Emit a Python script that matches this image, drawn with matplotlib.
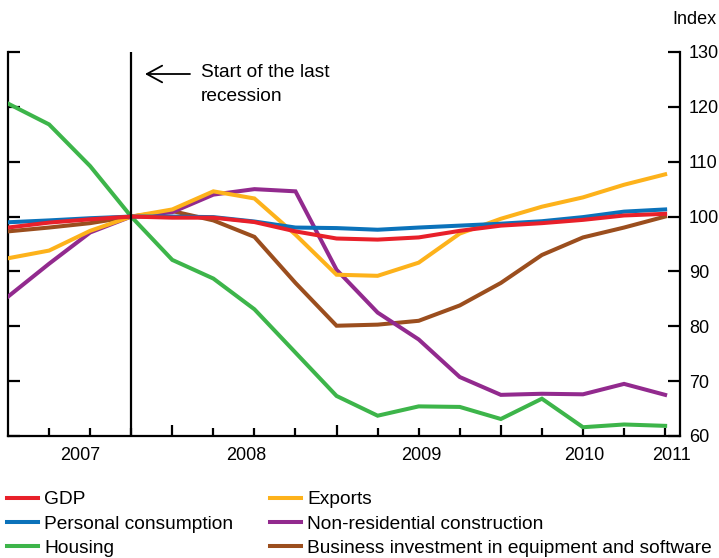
import matplotlib
matplotlib.use("Agg")
import matplotlib.pyplot as plt
import matplotlib.transforms as mtransforms
import numpy as np

plt.rcParams['font.family'] = ['Liberation Sans', 'DejaVu Sans']

quarters = ['2007Q1', '2007Q2', '2007Q3', '2007Q4', '2008Q1', '2008Q2', '2008Q3', '2008Q4',
            '2009Q1', '2009Q2', '2009Q3', '2009Q4', '2010Q1', '2010Q2', '2010Q3', '2010Q4', '2011Q1']
gdp = [98.0, 98.9, 99.5, 100, 99.8, 99.8, 99.0, 97.3, 96.0, 95.8, 96.2, 97.4, 98.35, 98.8, 99.4, 100.2, 100.5]
consumption = [98.96, 99.3, 99.7, 100, 100.0, 99.9, 99.1, 98.0, 97.9, 97.6, 98.0, 98.35, 98.7, 99.15, 99.9, 100.9, 101.3]
housing = [120.6, 116.8, 109.2, 100, 92.1, 88.7, 83.1, 75.2, 67.3, 63.7, 65.4, 65.3, 63.1, 66.8, 61.6, 62.1, 61.85]
exports = [92.4, 93.8, 97.4, 100, 101.3, 104.6, 103.3, 96.7, 89.4, 89.2, 91.6, 96.9, 99.6, 101.8, 103.5, 105.8, 107.7]
nonres = [85.4, 91.4, 97.1, 100, 100.8, 104.0, 105.0, 104.6, 90.3, 82.5, 77.6, 70.75, 67.5, 67.7, 67.6, 69.5, 67.5]
business = [97.3, 98.0, 98.8, 100, 101.0, 99.3, 96.3, 87.9, 80.1, 80.3, 81.0, 83.8, 87.9, 93.0, 96.2, 98.0, 100.0]

year_labels = ['2007', '2008', '2009', '2010', '2011']
year_label_pos = [1.75, 5.8, 10.07, 14.04, 16.15]
yticks = [60, 70, 80, 90, 100, 110, 120, 130]
recession_start = 3

colors = {
    'GDP': '#E8202A',
    'Exports': '#FDB21B',
    'Personal consumption': '#0B72BA',
    'Non-residential construction': '#922A8E',
    'Housing': '#3DB54A',
    'Business investment in equipment and software': '#9B4E1E',
}

FS_NUM = 13
FS_TXT = 13.8

fig = plt.figure(figsize=(7.19, 5.58), dpi=100)
ax = fig.add_axes([8/719, 1-436/558, (680-8)/719, 384/558])
x = np.arange(len(quarters))

lw = 2.9
series = [
    ('Housing', housing),
    ('Business investment in equipment and software', business),
    ('Non-residential construction', nonres),
    ('Exports', exports),
    ('Personal consumption', consumption),
    ('GDP', gdp),
]
handles = {}
for name, vals in series:
    h, = ax.plot(x, vals, color=colors[name], lw=lw, solid_joinstyle='miter', zorder=3)
    handles[name] = h

ax.axvline(recession_start, color='black', lw=1.6, zorder=4)

ax.set_xlim(0, 672/41.07)
ax.set_ylim(60, 130)

ax.spines['top'].set_visible(False)
for s in ['left', 'right', 'bottom']:
    ax.spines[s].set_linewidth(1.6)

ax.yaxis.tick_right()
ax.set_yticks(yticks)
ax.tick_params(axis='y', which='major', direction='in', length=8.6, width=1.6,
               left=True, right=True, labelleft=False, labelright=True,
               labelsize=FS_NUM, pad=6.5)

year_bounds = [4, 8, 12]
other_q = [i for i in range(1, len(quarters)) if i not in year_bounds]
ax.set_xticks(year_bounds)
ax.set_xticks(other_q, minor=True)
ax.tick_params(axis='x', which='major', direction='in', length=8.0, width=1.6, labelbottom=False)
ax.tick_params(axis='x', which='minor', direction='in', length=5.8, width=1.6, labelbottom=False)

trans = mtransforms.blended_transform_factory(ax.transData, ax.transAxes)
for lab, pos in zip(year_labels, year_label_pos):
    ax.text(pos, -19.5/384, lab, transform=trans, ha='center', va='center', fontsize=FS_NUM)

def px_to_data_x(px):
    return (px - 8) / 41.07

def py_to_data_y(py):
    return 130 - (py - 52) / 5.486

ax.annotate('', xy=(px_to_data_x(145), py_to_data_y(74)), xytext=(px_to_data_x(190), py_to_data_y(74)),
            arrowprops=dict(arrowstyle='->,head_length=0.55,head_width=0.3', lw=1.3, color='black',
                            shrinkA=0, shrinkB=0, mutation_scale=20))
ax.text(px_to_data_x(201), py_to_data_y(84.5), 'Start of the last\nrecession', ha='left', va='center',
        fontsize=FS_TXT, linespacing=1.5)

fig.text(717/719, 1-19/558, 'Index', ha='right', va='center', fontsize=FS_NUM)

order = ['GDP', 'Personal consumption', 'Housing', 'Exports', 'Non-residential construction',
         'Business investment in equipment and software']
leg = fig.legend([handles[n] for n in order], order, loc='upper left', bbox_to_anchor=(7/719, 1-491/558),
                 ncol=2, frameon=False, fontsize=FS_TXT, handlelength=1.62, handletextpad=0.31,
                 columnspacing=1.93, labelspacing=0.36, borderaxespad=0, borderpad=0)
for lh in leg.get_lines():
    lh.set_linewidth(2.9)

fig.savefig('out.png', dpi=100)
